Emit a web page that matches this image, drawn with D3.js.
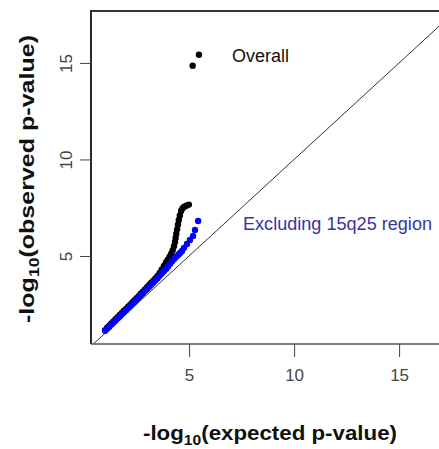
<!DOCTYPE html>
<html>
<head>
<meta charset="utf-8">
<script src="https://cdn.jsdelivr.net/npm/d3@7"></script>
<style>
html,body{margin:0;padding:0;background:#fff;}
svg{display:block;}
</style>
</head>
<body>
<svg id="chart" width="439" height="449"></svg>
<script>
// ---- data ----
const overallExpected = [1.00,1.10,1.20,1.30,1.40,1.50,1.60,1.70,1.80,1.90,2.00,2.10,2.20,2.30,2.40,2.50,2.60,2.70,2.80,2.90,3.00,3.10,3.20,3.30,3.40,3.50,3.60,3.70,3.80,3.90,3.98,4.07,4.15,4.22,4.28,4.33,4.36,4.39,4.43,4.47,4.51,4.56,4.62,4.69,4.77,4.87,4.99,5.17,5.47];
const overallObserved = [1.16,1.28,1.39,1.50,1.61,1.72,1.83,1.94,2.05,2.16,2.26,2.37,2.48,2.59,2.70,2.81,2.92,3.04,3.15,3.27,3.38,3.50,3.62,3.72,3.83,3.96,4.12,4.30,4.48,4.66,4.80,4.96,5.12,5.30,5.50,5.72,5.93,6.15,6.38,6.62,6.86,7.10,7.33,7.47,7.55,7.60,7.66,14.85,15.42];
const exclExpected = [1.00,1.10,1.20,1.30,1.40,1.50,1.60,1.70,1.80,1.90,2.00,2.10,2.20,2.30,2.40,2.50,2.60,2.70,2.80,2.90,3.00,3.10,3.20,3.30,3.40,3.50,3.60,3.70,3.80,3.90,4.00,4.10,4.20,4.30,4.40,4.50,4.58,4.66,4.76,4.90,5.04,5.19,5.28,5.43];
const exclObserved = [1.12,1.23,1.34,1.45,1.55,1.66,1.77,1.87,1.98,2.09,2.19,2.30,2.41,2.52,2.63,2.74,2.85,2.96,3.07,3.18,3.29,3.40,3.51,3.62,3.74,3.85,3.97,4.09,4.21,4.33,4.46,4.60,4.74,4.86,4.97,5.08,5.17,5.26,5.42,5.62,5.83,6.04,6.35,6.81];
const xTicks = [5, 10, 15];
const yTicks = [5, 10, 15];
const xDomain = [0.33, 17.69];
const yDomain = [0.44, 17.69];
const labelOverall = "Overall";
const labelExcl = "Excluding 15q25 region";

// ---- layout ----
const svg = d3.select("#chart");
const plot = {left: 91, top: 11, right: 455.6, bottom: 344};
const x = d3.scaleLinear().domain(xDomain).range([plot.left, plot.right]);
const y = d3.scaleLinear().domain(yDomain).range([plot.bottom, plot.top]);

svg.append("rect").attr("width", 439).attr("height", 449).attr("fill", "#fff");

svg.append("clipPath").attr("id", "clip")
  .append("rect").attr("x", plot.left).attr("y", plot.top)
  .attr("width", plot.right - plot.left).attr("height", plot.bottom - plot.top);

// diagonal y = x
const lo = Math.max(xDomain[0], yDomain[0]), hi = Math.min(xDomain[1], yDomain[1]) + 2;
svg.append("line")
  .attr("clip-path", "url(#clip)")
  .attr("x1", x(lo)).attr("y1", y(lo))
  .attr("x2", x(hi)).attr("y2", y(hi))
  .attr("stroke", "#333").attr("stroke-width", 1);

const g = svg.append("g").attr("clip-path", "url(#clip)");
const overall = overallExpected.map((e, i) => ({e, o: overallObserved[i]}));
const excl = exclExpected.map((e, i) => ({e, o: exclObserved[i]}));

g.selectAll("circle.ov").data(overall).join("circle")
  .attr("class", "ov")
  .attr("cx", d => x(d.e)).attr("cy", d => y(d.o))
  .attr("r", 3.2).attr("fill", "#000");

g.selectAll("circle.ex").data(excl).join("circle")
  .attr("class", "ex")
  .attr("cx", d => x(d.e)).attr("cy", d => y(d.o))
  .attr("r", 3.2).attr("fill", "#0000ff");

// box
svg.append("line").attr("x1", plot.left).attr("y1", plot.top).attr("x2", plot.right).attr("y2", plot.top)
  .attr("stroke", "#333").attr("stroke-width", 2);
svg.append("line").attr("x1", plot.left).attr("y1", plot.top - 1).attr("x2", plot.left).attr("y2", plot.bottom)
  .attr("stroke", "#111").attr("stroke-width", 1.8);
svg.append("line").attr("x1", plot.left).attr("y1", plot.bottom).attr("x2", plot.right).attr("y2", plot.bottom)
  .attr("stroke", "#555").attr("stroke-width", 1.3);

// x axis
const xAxis = d3.axisBottom(x).tickValues(xTicks).tickSize(13).tickPadding(12).tickFormat(d3.format("d"));
const gx = svg.append("g").attr("transform", `translate(0,${plot.bottom})`).call(xAxis);
gx.select(".domain").remove();
gx.selectAll(".tick line").attr("stroke", "#444").attr("stroke-width", 1);
gx.selectAll(".tick text").attr("font-family", "Liberation Sans, Arial, sans-serif")
  .attr("font-size", 17).attr("fill", "#444");

// y axis
const yAxis = d3.axisLeft(y).tickValues(yTicks).tickSize(11).tickPadding(0).tickFormat(d3.format("d"));
const gy = svg.append("g").attr("transform", `translate(${plot.left},0)`).call(yAxis);
gy.select(".domain").remove();
gy.selectAll(".tick line").attr("stroke", "#444").attr("stroke-width", 1);
gy.selectAll(".tick text")
  .attr("font-family", "Liberation Sans, Arial, sans-serif")
  .attr("font-size", 17).attr("fill", "#444")
  .attr("x", null).attr("dy", null)
  .attr("text-anchor", "middle")
  .attr("transform", "translate(-25,0) rotate(-90)")
  .attr("y", 6);

// axis titles
const xt = svg.append("text")
  .attr("x", 270).attr("y", 440)
  .attr("text-anchor", "middle")
  .attr("font-family", "Liberation Sans, Arial, sans-serif")
  .attr("font-weight", "bold").attr("font-size", 20).attr("fill", "#111")
  .attr("textLength", 254).attr("lengthAdjust", "spacingAndGlyphs");
xt.append("tspan").text("-log");
xt.append("tspan").attr("font-size", 14).attr("dy", 5).text("10");
xt.append("tspan").attr("dy", -5).text("(expected p-value)");

const yt = svg.append("text")
  .attr("transform", "translate(34,179) rotate(-90)")
  .attr("text-anchor", "middle")
  .attr("font-family", "Liberation Sans, Arial, sans-serif")
  .attr("font-weight", "bold").attr("font-size", 20).attr("fill", "#111")
  .attr("textLength", 288).attr("lengthAdjust", "spacingAndGlyphs");
yt.append("tspan").text("-log");
yt.append("tspan").attr("font-size", 14).attr("dy", 5).text("10");
yt.append("tspan").attr("dy", -5).text("(observed p-value)");

// annotations
svg.append("text").attr("x", 232).attr("y", 62)
  .attr("font-family", "Liberation Sans, Arial, sans-serif")
  .attr("font-size", 18).attr("fill", "#111")
  .attr("textLength", 57).attr("lengthAdjust", "spacingAndGlyphs")
  .text(labelOverall);
svg.append("text").attr("x", 243).attr("y", 230)
  .attr("font-family", "Liberation Sans, Arial, sans-serif")
  .attr("font-size", 18).attr("fill", "#3535a5")
  .attr("textLength", 189).attr("lengthAdjust", "spacingAndGlyphs")
  .text(labelExcl);
</script>
</body>
</html>
